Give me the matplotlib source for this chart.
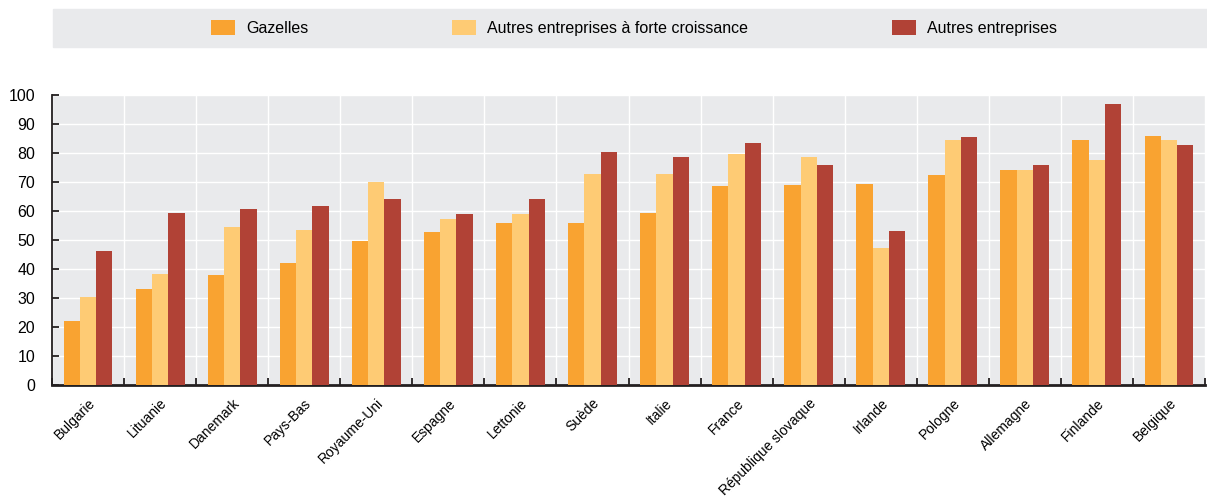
import numpy as np
import matplotlib.pyplot as plt
from matplotlib.patches import Patch, Rectangle

plt.rcParams['font.family'] = ['Liberation Sans Narrow', 'Liberation Sans', 'DejaVu Sans']

# data
pays = ['Bulgarie', 'Lituanie', 'Danemark', 'Pays-Bas', 'Royaume-Uni', 'Espagne',
        'Lettonie', 'Suède', 'Italie', 'France', 'République slovaque', 'Irlande',
        'Pologne', 'Allemagne', 'Finlande', 'Belgique']
gazelles = [22, 33.1, 37.8, 42.2, 49.7, 52.8, 56, 56, 59.4, 68.5, 69, 69.2, 72.4, 74, 84.5, 85.9]
forte = [30.5, 38.3, 54.5, 53.6, 70, 57.2, 59, 72.8, 72.8, 79.7, 78.5, 47.1, 84.5, 74.1, 77.5, 84.5]
autres = [46.2, 59.2, 60.7, 61.8, 64, 59, 64.3, 80.5, 78.7, 83.4, 75.7, 53, 85.6, 75.9, 96.9, 82.8]
series_names = ['Gazelles', 'Autres entreprises à forte croissance', 'Autres entreprises']
colors = ['#F9A331', '#FECB74', '#B14236']

fig = plt.figure(figsize=(12.07, 4.99), dpi=100)
ax = fig.add_axes([52/1207, 1-385/499, (1205-52)/1207, (385-95)/499])
ax.set_facecolor('#E9EAEC')

x = np.arange(len(pays))
w = 0.226
for i, vals in enumerate([gazelles, forte, autres]):
    ax.bar(x + (i-1)*w, vals, width=w, color=colors[i], zorder=3)

ax.set_xlim(-0.5, len(pays)-0.5)
ax.set_ylim(0, 100)
ax.set_yticks(np.arange(0, 101, 10))
ax.set_xticks(x)
ax.set_xticklabels(pays, rotation=45, ha='right', rotation_mode='anchor', fontsize=10)
ax.set_xticks(np.arange(-0.5, len(pays)), minor=True)
ax.tick_params(axis='x', which='major', length=0, pad=8)
ax.tick_params(axis='x', which='minor', direction='in', length=5, width=1.3, color='#231F20')
ax.tick_params(axis='y', direction='in', length=5, width=1.3, color='#231F20', labelsize=11.5, pad=12)
ax.grid(axis='y', color='white', linewidth=1, zorder=0)
ax.grid(axis='x', which='minor', color='white', linewidth=1, zorder=0)
ax.set_axisbelow(True)
for s in ['top', 'right']:
    ax.spines[s].set_visible(False)
ax.spines['left'].set_color('#231F20')
ax.spines['left'].set_linewidth(1.3)
ax.spines['bottom'].set_color('#231F20')
ax.spines['bottom'].set_linewidth(2)

# legend band
fig.patches.append(Rectangle((53/1207, 1-47/499), (1207-53)/1207, 38/499,
                             transform=fig.transFigure, color='#E9EAEC', zorder=0))
handles = [Patch(facecolor=c) for c in colors]
fig.legend(handles, series_names, loc='center', bbox_to_anchor=(634/1207, 1-28/499),
           ncol=3, frameon=False, fontsize=11.5, columnspacing=9.0,
           handlelength=1.5, handleheight=1.1, handletextpad=0.7)

fig.savefig('out.png', dpi=100)
